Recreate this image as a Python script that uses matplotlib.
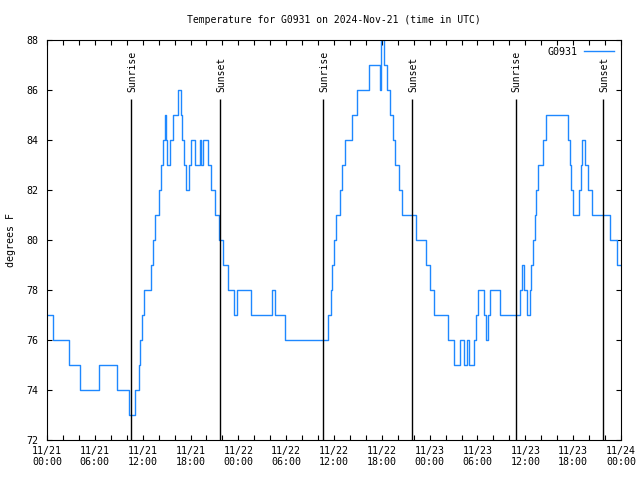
# temperature for G0931, 3 days, with sunrise / sunset markers

import numpy as np
import matplotlib.pyplot as plt

plt.rcParams['font.family'] = ['DejaVu Sans Mono']
plt.rcParams['font.size'] = 7.2

# hours since 2024-11-21 00:00 UTC where the reading changes, and the new reading (F)
hours = [0.0, 0.75, 2.8, 4.1, 6.55, 8.8, 10.25, 11.0, 11.5, 11.7,
         11.9, 12.2, 13.05, 13.25, 13.55, 14.05, 14.25, 14.5, 14.75, 14.95,
         15.1, 15.45, 15.85, 16.4, 16.75, 16.95, 17.15, 17.45, 17.75, 18.1,
         18.6, 19.15, 19.3, 19.6, 20.2, 20.55, 21.1, 21.63, 22.05, 22.75,
         23.4, 23.85, 25.6, 28.2, 28.55, 29.9, 35.29, 35.63, 35.79, 36.04,
         36.29, 36.79, 37.04, 37.38, 38.22, 38.88, 40.35, 41.77, 41.9, 42.25,
         42.65, 43.0, 43.35, 43.7, 44.1, 44.55, 46.27, 47.6, 48.1, 48.6,
         50.35, 51.0, 51.8, 52.3, 52.65, 52.9, 53.55, 53.75, 54.05, 54.85,
         55.05, 55.3, 55.55, 56.85, 59.27, 59.55, 59.85, 60.2, 60.55, 60.75,
         60.95, 61.2, 61.4, 61.6, 62.25, 62.65, 65.29, 65.55, 65.75, 65.95,
         66.7, 66.95, 67.15, 67.5, 67.9, 68.4, 70.6, 71.55, 72.0]
temps = [77, 76, 75, 74, 75, 74, 73, 74, 75, 76,
         77, 78, 79, 80, 81, 82, 83, 84, 85, 84,
         83, 84, 85, 86, 85, 84, 83, 82, 83, 84,
         83, 84, 83, 84, 83, 82, 81, 80, 79, 78,
         77, 78, 77, 78, 77, 76, 77, 78, 79, 80,
         81, 82, 83, 84, 85, 86, 87, 86, 88, 87,
         86, 85, 84, 83, 82, 81, 80, 79, 78, 77,
         76, 75, 76, 75, 76, 75, 76, 77, 78, 77,
         76, 77, 78, 77, 78, 79, 78, 77, 78, 79,
         80, 81, 82, 83, 84, 85, 84, 83, 82, 81,
         82, 83, 84, 83, 82, 81, 80, 79, 79]

sun_hours = [10.55, 21.74, 34.66, 45.82, 58.78, 69.76]
sun_names = ['Sunrise', 'Sunset', 'Sunrise', 'Sunset', 'Sunrise', 'Sunset']

tick_hours = np.arange(0, 73, 6)
tick_labels = ['11/21\n00:00', '11/21\n06:00', '11/21\n12:00', '11/21\n18:00',
               '11/22\n00:00', '11/22\n06:00', '11/22\n12:00', '11/22\n18:00',
               '11/23\n00:00', '11/23\n06:00', '11/23\n12:00', '11/23\n18:00',
               '11/24\n00:00']

fig = plt.figure(figsize=(6.4, 4.8), dpi=100)
ax = fig.add_axes([47 / 640, 40 / 480, 574 / 640, 400 / 480])

ax.plot(hours, temps, drawstyle='steps-post', color='#1e88ff', linewidth=1.0, label='G0931')

# sunrise / sunset lines
ax.vlines(sun_hours, 72, 85.62, color='black', linewidth=1.0)
for h, name in zip(sun_hours, sun_names):
    ax.text(h + 0.1, 85.9, name, rotation=90, ha='center', va='bottom', fontsize=7)

ax.set_xlim(0, 72)
ax.set_ylim(72, 88)
ax.set_xticks(tick_hours)
ax.set_xticklabels(tick_labels)
ax.set_xticks(np.arange(0, 73, 2), minor=True)
ax.set_yticks(np.arange(72, 89, 2))

ax.tick_params(which='both', direction='in', top=True, right=True, length=3.5, width=0.8)
ax.tick_params(axis='x', pad=4)
ax.tick_params(axis='y', pad=6)
for s in ax.spines.values():
    s.set_linewidth(0.8)

ax.set_title('Temperature for G0931 on 2024-Nov-21 (time in UTC)', fontsize=7, pad=12)
ax.set_ylabel('degrees F', labelpad=8)
ax.legend(loc='upper right', frameon=False, markerfirst=False, handlelength=3.0,
          borderaxespad=0.3, handletextpad=0.6)

plt.savefig('out.png', dpi=100)
